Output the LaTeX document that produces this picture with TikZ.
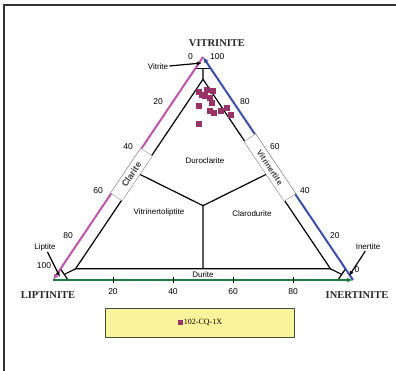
\documentclass[tikz,border=0pt]{standalone}
\usepackage{fontspec}
\setmainfont{Liberation Serif}
\setsansfont{Liberation Sans}
\usepackage{tikz}
\usetikzlibrary{arrows.meta, positioning, calc}
\definecolor{axLip}{HTML}{BF55AA}
\definecolor{axVit}{HTML}{3C4FA8}
\definecolor{axIne}{HTML}{1E7F3E}
\definecolor{ptPlum}{HTML}{993366}
\definecolor{legFill}{HTML}{F9F39B}
\definecolor{legEdge}{HTML}{3E4E34}

\begin{document}
\begin{tikzpicture}[x=1pt, y=-1pt,
  axis/.style={line width=2pt, -{Latex[length=6pt,width=5pt]}},
  field/.style={line width=1.2pt, line join=round},
  tick/.style={font=\sffamily\fontsize{8.5}{9}\selectfont, inner sep=0pt},
  region/.style={font=\sffamily\fontsize{8}{9}\selectfont, inner sep=1pt},
  corner/.style={font=\bfseries\fontsize{10.5}{12}\selectfont, text=black!85},
  callout/.style={line width=1.2pt, -{Latex[length=5pt,width=4pt]}},
  tag/.style={draw=black!45, line width=0.4pt, fill=white, inner sep=0pt,
              font=\sffamily\bfseries, text=black!75},
  datapt/.style={fill=ptPlum, inner sep=0pt, minimum size=6.5pt}
]
  \useasboundingbox (0,0) rectangle (396,371);
  \draw[line width=1.3pt, black!80] (4,371) -- (4,5) -- (396,5);

  \coordinate (V) at (203,57);
  \coordinate (L) at (53,280);
  \coordinate (I) at (353,280);

  % microlithotype fields
  \draw[field] (barycentric cs:V=0.9,L=0.05,I=0.05) -- (barycentric cs:V=0.05,L=0.9,I=0.05)
    -- (barycentric cs:V=0.05,L=0.05,I=0.9) -- cycle;
  \draw[field] (barycentric cs:V=0.95,L=0.05,I=0) -- (barycentric cs:V=0.95,L=0,I=0.05);
  \draw[field] (barycentric cs:V=0.9,L=0.05,I=0.05) -- (barycentric cs:V=0.95,L=0.025,I=0.025);
  \draw[field] (barycentric cs:L=0.95,V=0.05,I=0) -- (barycentric cs:L=0.95,V=0,I=0.05);
  \draw[field] (barycentric cs:V=0.05,L=0.9,I=0.05) -- (barycentric cs:L=0.95,V=0.025,I=0.025);
  \draw[field] (barycentric cs:I=0.95,V=0.05,L=0) -- (barycentric cs:I=0.95,V=0,L=0.05);
  \draw[field] (barycentric cs:V=0.05,L=0.05,I=0.9) -- (barycentric cs:I=0.95,V=0.025,L=0.025);
  \coordinate (mid) at (barycentric cs:V=1,L=1,I=1);
  \draw[field] (mid) -- (barycentric cs:V=0.475,L=0.475,I=0.05);
  \draw[field] (mid) -- (barycentric cs:V=0.475,L=0.05,I=0.475);
  \draw[field] (mid) -- (barycentric cs:V=0.05,L=0.475,I=0.475);

  \node[region] (durite) at (203,275) {Durite};

  % axes
  \draw[axis, axLip] (V) -- (L);
  \draw[axis, axVit] (I) -- (V);
  \draw[axis, axIne, line width=2.6pt] (L) -- (I);
  \foreach \t in {0.2,0.4,0.6,0.8}
    \draw[line width=0.6pt] ($(L)!\t!(I)+(0,-3)$) -- ($(L)!\t!(I)+(0,3)$);

  \node[tag, rotate=56.07, minimum width=54pt, minimum height=14pt, font=\sffamily\bfseries\fontsize{9}{10}\selectfont]
    (clariteTag) at (barycentric cs:V=0.473,L=0.502,I=0.025) {Clarite};
  \node[tag, rotate=-56.07, minimum width=72pt, minimum height=14pt, font=\sffamily\bfseries\fontsize{8}{9}\selectfont]
    (vitrinertiteTag) at (barycentric cs:V=0.504,L=0.025,I=0.471) {Vitrinertite};

  % scale labels
  \foreach \v/\lab in {1/0, 0.8/20, 0.6/40, 0.4/60, 0.2/80}
    \node[tick, anchor=east] (lipTick\lab) at ($(L)!\v!(V)+(-10,0)$) {\lab};
  \node[tick] (lipTick100) at (44,266) {100};
  \foreach \v/\lab in {1/100, 0.8/80, 0.6/60, 0.4/40, 0.2/20}
    \node[tick, anchor=west] (vitTick\lab) at ($(I)!\v!(V)+(7,0)$) {\lab};
  \node[tick] (vitTick0) at (357,270) {0};
  \foreach \t/\lab in {0.2/20, 0.4/40, 0.6/60, 0.8/80}
    \node[tick] (ineTick\lab) at ($(L)!\t!(I)+(0,12)$) {\lab};

  \node[corner] (vitrinite) at (217,43) {VITRINITE};
  \node[corner] (liptinite) at (48,295) {LIPTINITE};
  \node[corner] (inertinite) at (357,295) {INERTINITE};

  \node[region] (duroclarite) at (205,161) {Duroclarite};
  \node[region] (vitrinertoliptite) at (159,212) {Vitrinertoliptite};
  \node[region] (clarodurite) at (252,214) {Clarodurite};

  % end members
  \node[region] (vitrite) at (158,67) {Vitrite};
  \node[region] (liptite) at (45,247) {Liptite};
  \node[region] (inertite) at (368,247) {Inertite};
  \coordinate (vitriteTip) at (202,63);
  \coordinate (liptiteTip) at (60,277);
  \coordinate (inertiteTip) at (349,276);
  \draw[callout] (vitrite) -- (vitriteTip);
  \draw[callout] (liptite) -- (liptiteTip);
  \draw[callout] (inertite) -- (inertiteTip);

  % 102-CQ-1X samples
  \foreach \p [count=\k] in {(199,92),(202,95),(207,90),(213,91),(205,96),(210,98),(212,103),
      (199,106),(210,111),(214,113),(221,111),(227,108),(231,115),(199,124)}
    \node[datapt] (pt\k) at \p {};

  \node[draw=legEdge, fill=legFill, line width=0.9pt, minimum width=189pt, minimum height=29pt]
    (legend) at (199.5,322.5) {};
  \node[datapt, minimum size=5pt] (legMark) at (180,322.5) {};
  \node[font=\fontsize{8}{9}\selectfont, inner sep=0pt, right=1pt of legMark] (legText) {102-CQ-1X};
\end{tikzpicture}
\end{document}
